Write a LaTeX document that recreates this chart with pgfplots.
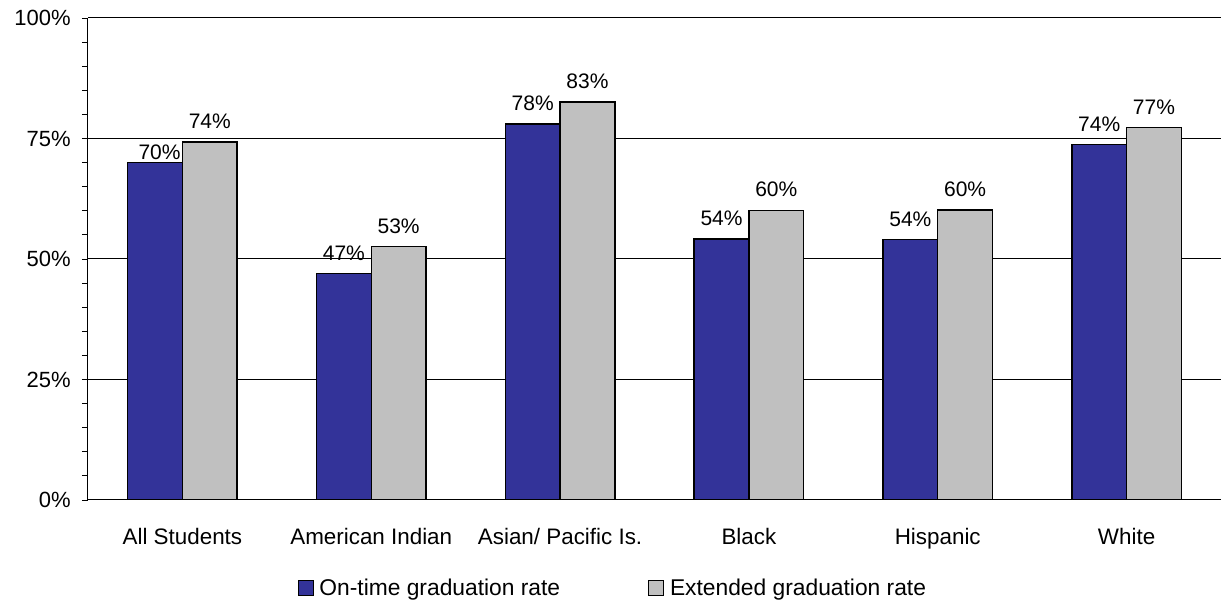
\documentclass[border=0pt]{standalone}
\usepackage{pgfplots}
\pgfplotsset{compat=1.18}
\usepackage{fontspec}
\setmainfont{Liberation Sans}
\definecolor{ontime}{HTML}{333399}
\definecolor{ext}{HTML}{C0C0C0}
\pgfplotstableread{
x ontime ext dxa dya dyb
0 70.0 74.3 3.4 2 10
1 47.0 52.6 0 10 10
2 78.0 82.6 0 10 10
3 54.1 60.1 0 10 10
4 54.0 60.2 0 10 10
5 73.7 77.3 0 10 10
}\grad
\begin{document}
\begin{tikzpicture}
\begin{axis}[
  scale only axis,
  width=849.75pt, height=361.5pt,
  at={(0,0)}, anchor=south west,
  xmin=-0.5, xmax=5.5,
  ymin=0, ymax=100,
  axis x line=bottom, axis y line=left,
  axis line style={-, line width=0.75pt, black},
  xtick={0,1,2,3,4,5},
  xticklabels={All Students,American Indian,Asian/ Pacific Is.,Black,Hispanic,White},
  x tick style={draw=none},
  xticklabel style={font=\fontsize{16.8pt}{20pt}\selectfont, yshift=-13pt},
  ytick={0,25,50,75,100},
  yticklabels={0\%,25\%,50\%,75\%,100\%},
  yticklabel style={font=\fontsize{16.5pt}{20pt}\selectfont, xshift=-5pt},
  minor y tick num=4,
  tick align=outside,
  major tick length=4.5pt, minor tick length=4.5pt,
  y tick style={black, line width=0.6pt},
  ymajorgrids,
  grid style={black, line width=0.75pt},
  bar width=0.29,
  ybar=0pt,
  legend columns=2,
  legend style={at={(0.465,-0.183)}, anchor=center, draw=none, fill=none,
    font=\fontsize{17.1pt}{20pt}\selectfont,
    /tikz/every even column/.append style={column sep=61.5pt},
    nodes={inner xsep=4.5pt, inner ysep=1pt}},
  legend image code/.code={\draw[#1, draw=black, line width=0.6pt] (0pt,-5.6pt) rectangle (11.25pt,5.6pt);},
]
\addplot[fill=ontime, draw=black, line width=1.1pt, bar shift=-0.145,
  visualization depends on={\thisrow{dxa} \as \dx},
  visualization depends on={\thisrow{dya} \as \dy},
  nodes near coords={\pgfmathprintnumber[fixed,precision=0,assume math mode=true]{\pgfplotspointmeta}\%},
  every node near coord/.append style={font=\fontsize{15.75pt}{19pt}\selectfont, anchor=base, inner sep=0pt, black, yshift=\dy pt, xshift=\dx pt},
  ] table[x=x,y=ontime]{\grad};
\addplot[fill=ext, draw=black, line width=1.1pt, bar shift=0.145,
  visualization depends on={\thisrow{dyb} \as \dy},
  nodes near coords={\pgfmathprintnumber[fixed,precision=0,assume math mode=true]{\pgfplotspointmeta}\%},
  every node near coord/.append style={font=\fontsize{15.75pt}{19pt}\selectfont, anchor=base, inner sep=0pt, black, yshift=\dy pt},
  ] table[x=x,y=ext]{\grad};
\legend{On-time graduation rate, Extended graduation rate}
\end{axis}
\pgfresetboundingbox
\useasboundingbox (-66pt,-78.75pt) rectangle (849.75pt,375pt);
\end{tikzpicture}
\end{document}
